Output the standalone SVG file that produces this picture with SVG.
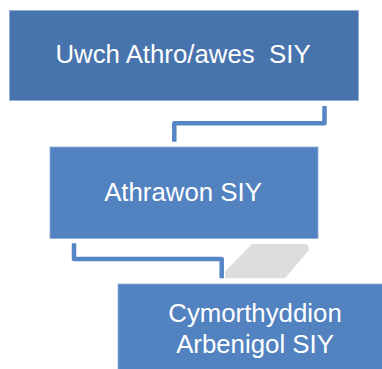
<svg xmlns="http://www.w3.org/2000/svg" width="382" height="369" viewBox="0 0 382 369">
<style>
.box{stroke:#8fb0dc;stroke-width:0.8}
.b1{fill:#4874ad}
.b2{fill:#5282c0}
.t{font-family:"Liberation Sans",Arial,sans-serif;font-size:25.8px;fill:#ffffff;text-anchor:middle;white-space:pre}
.c{fill:none;stroke:#5585c5;stroke-width:4.5;stroke-linejoin:round}
</style>
<rect width="382" height="369" fill="#ffffff"/>
<g id="connectors">
<path class="c" d="M324.5,106 V123.3 H174.3 V141.7"/>
<path class="c" d="M74,243.3 V259 H221.7 V278.3"/>
</g>
<path id="shadow" d="M252,244 H306 Q309,245 309,250 L285,278.3 H225 V271.5 Z" fill="#dddddd"/>
<g id="node1">
<rect class="box b1" x="9.5" y="10.5" width="349" height="90"/>
<text class="t" x="183" y="63" xml:space="preserve">Uwch Athro/awes  SIY</text>
</g>
<g id="node2">
<rect class="box b2" x="50" y="147" width="268" height="91.5"/>
<text class="t" x="183" y="201">Athrawon SIY</text>
</g>
<g id="node3">
<rect class="box b2" x="118" y="284" width="274" height="95"/>
<text class="t" x="255" y="321.5">Cymorthyddion</text>
<text class="t" x="255" y="353">Arbenigol SIY</text>
</g>
</svg>
